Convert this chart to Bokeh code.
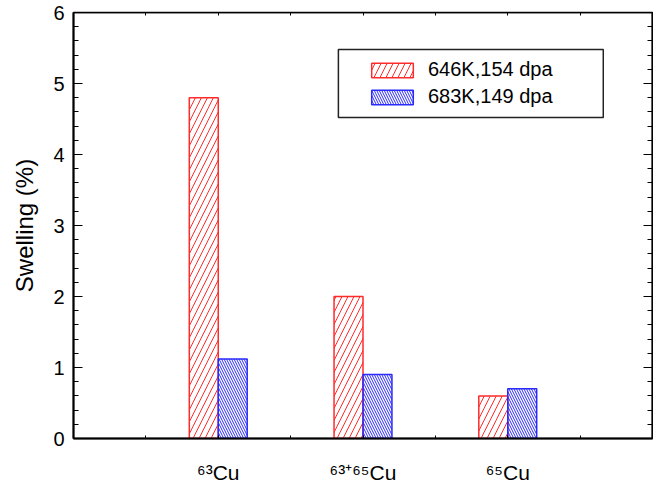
from bokeh.plotting import figure
from bokeh.models import (ColumnDataSource, Range1d, LinearAxis, FixedTicker,
                          SingleIntervalTicker, Legend, LegendItem, BoxAnnotation)
from bokeh.transform import dodge
from bokeh.embed import file_html
from bokeh.resources import INLINE

# ---- data ----
groups = [1, 2, 3]
group_labels = ["\u2076\u00b3Cu", "\u2076\u00b3\u207a\u2076\u2075Cu", "\u2076\u2075Cu"]
series_names = ["646K,154 dpa", "683K,149 dpa"]
swelling_646 = [4.8, 2.0, 0.6]
swelling_683 = [1.12, 0.9, 0.7]
x_minor_ticks = [0.5, 1.5, 2.5, 3.5]
x_lo, x_hi = 0, 4
y_lo, y_hi = 0, 6

FONT = "Liberation Sans"

src = ColumnDataSource(dict(x=groups, a=swelling_646, b=swelling_683))

p = figure(width=653, height=486, output_backend="svg", toolbar_location=None,
           x_range=Range1d(x_lo, x_hi), y_range=Range1d(y_lo, y_hi),
           min_border_left=73, min_border_top=12, min_border_bottom=48, min_border_right=1)
p.grid.visible = False
p.outline_line_color = "black"
p.outline_line_width = 1.5
p.background_fill_color = "white"
p.border_fill_color = "white"

r1 = p.vbar(x=dodge("x", -0.1, range=p.x_range), top="a", width=0.2, source=src,
            fill_color=None, line_color="#ff2a2a", line_width=1.5,
            hatch_pattern="/", hatch_color="#ff2a2a", hatch_scale=12, hatch_weight=1)
r2 = p.vbar(x=dodge("x", 0.1, range=p.x_range), top="b", width=0.2, source=src,
            fill_color=None, line_color="#2a2aff", line_width=1.5,
            hatch_pattern="\\", hatch_color="#2a2aff", hatch_scale=5, hatch_weight=1)

x_ticker = FixedTicker(ticks=groups, minor_ticks=x_minor_ticks)

# bottom axis
xa = p.xaxis[0]
xa.ticker = x_ticker
xa.major_label_overrides = {float(g): lab for g, lab in zip(groups, group_labels)}
xa.major_label_text_font = FONT
xa.major_label_text_font_size = "21px"
xa.major_label_text_color = "black"
xa.major_label_standoff = 22
xa.major_tick_in = 3
xa.major_tick_out = 0
xa.minor_tick_in = 3
xa.minor_tick_out = 0
xa.axis_line_width = 2

# left axis
ya = p.yaxis[0]
ya.ticker = SingleIntervalTicker(interval=1, num_minor_ticks=5)
ya.major_tick_in = 9
ya.major_tick_out = 0
ya.minor_tick_in = 5
ya.minor_tick_out = 0
ya.axis_line_width = 2
ya.major_label_text_font = FONT
ya.major_label_text_font_size = "20px"
ya.major_label_text_color = "black"
ya.major_label_standoff = 9
ya.axis_label = "Swelling (%)"
ya.axis_label_text_font = FONT
ya.axis_label_text_font_size = "24px"
ya.axis_label_text_font_style = "normal"
ya.axis_label_text_color = "black"
ya.axis_label_standoff = 12

# right axis (ticks only, drawn at the frame edge)
ra = LinearAxis(ticker=SingleIntervalTicker(interval=1, num_minor_ticks=5),
                fixed_location=x_hi,
                major_tick_in=9, major_tick_out=0, minor_tick_in=5, minor_tick_out=0,
                major_label_text_font_size="0px", major_label_text_color=None,
                major_label_standoff=0, axis_line_width=2)
p.add_layout(ra, "right")

# top axis (ticks only)
ta = LinearAxis(ticker=x_ticker, fixed_location=y_hi,
                major_tick_in=3, major_tick_out=0, minor_tick_in=3, minor_tick_out=0,
                major_label_text_font_size="0px", major_label_text_color=None,
                major_label_standoff=0, axis_line_width=1.5)
p.add_layout(ta, "above")

# legend
legend = Legend(items=[LegendItem(label=series_names[0], renderers=[r1]),
                       LegendItem(label=series_names[1], renderers=[r2])],
                location=(293, 330), padding=0, margin=0, spacing=4,
                glyph_width=52, glyph_height=18, label_standoff=10,
                label_text_font=FONT, label_text_font_size="20px",
                label_text_color="black",
                border_line_alpha=0, background_fill_alpha=0)
p.add_layout(legend, "center")

p.add_layout(BoxAnnotation(left=1.83, right=3.66, bottom=4.52, top=5.48,
                           fill_alpha=0, line_color="#222222", line_alpha=1,
                           line_width=1.5))

open("out.html", "w").write(file_html(p, INLINE))
